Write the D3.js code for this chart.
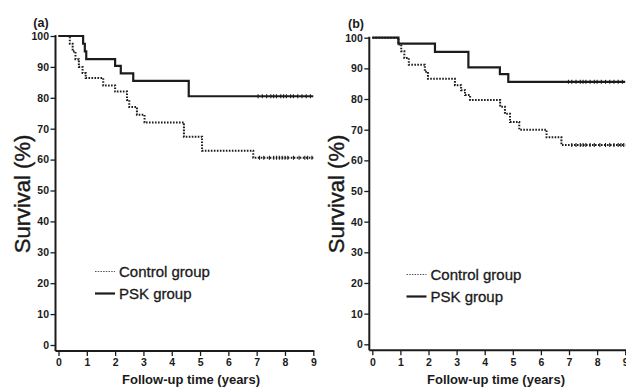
<!DOCTYPE html>
<html>
<head>
<meta charset="utf-8">
<script src="https://cdn.jsdelivr.net/npm/d3@7"></script>
<style>
  html, body { margin: 0; padding: 0; background: #fff; }
  svg { display: block; }
  text { font-family: "Liberation Sans", Arial, sans-serif; fill: #1a1a1a; }
</style>
</head>
<body>
<svg id="chart" width="626" height="387"></svg>
<script>
// ---------- DATA ----------
const panelLabels = ["(a)", "(b)"];
const seriesNames = ["Control group", "PSK group"];
const xTicks = [0, 1, 2, 3, 4, 5, 6, 7, 8, 9];
const yTicks = [0, 10, 20, 30, 40, 50, 60, 70, 80, 90, 100];
const yTitle = "Survival (%)";
const xTitle = "Follow-up time (years)";

// Kaplan–Meier steps: [time (years), survival (%) after event]
const controlA = [[0, 100], [0.40, 97.5], [0.50, 95], [0.60, 92.5], [0.72, 90], [0.85, 88], [0.96, 86.4],
                  [1.58, 84], [2.0, 82], [2.42, 79.3], [2.5, 77], [2.77, 74.5], [3.04, 72],
                  [4.43, 67.4], [5.07, 62.9], [6.88, 60.6], [9, 60.6]];
const pskA = [[0, 100], [0.87, 97.5], [0.93, 95], [0.98, 92.5], [2.0, 90.3], [2.2, 87.9],
              [2.64, 85.5], [4.6, 80.5], [9, 80.5]];
const controlB = [[0, 100], [0.93, 97.8], [1.03, 95.6], [1.14, 93.4], [1.3, 91.2], [1.87, 88.9],
                  [1.98, 86.6], [2.94, 84.5], [3.16, 82.9], [3.3, 81.3], [3.48, 79.7],
                  [4.55, 77.5], [4.72, 75.2], [4.9, 72.5], [5.23, 70], [6.2, 67.5], [6.73, 65], [9, 65]];
const pskB = [[0, 100], [0.93, 98.1], [2.23, 95.4], [3.42, 90.3], [4.54, 88.1], [4.84, 85.6], [9, 85.6]];

// censored observations (years) on the plateaus
const censorControlA = [7.1, 7.25, 7.45, 7.6, 7.7, 7.8, 7.9, 8.0, 8.1, 8.3, 8.5, 8.7, 8.8, 8.95];
const censorPskA = [7.05, 7.2, 7.35, 7.5, 7.6, 7.7, 7.85, 7.95, 8.05, 8.2, 8.3, 8.45, 8.6, 8.75, 8.9];
const censorControlB = [7.1, 7.25, 7.4, 7.5, 7.6, 7.75, 7.9, 8.1, 8.3, 8.45, 8.6, 8.75, 8.85, 8.95];
const censorPskB = [6.98, 7.1, 7.25, 7.4, 7.5, 7.6, 7.75, 7.9, 8.0, 8.15, 8.3, 8.45, 8.6, 8.75, 8.9];

// ---------- LAYOUT ----------
const panels = [
  { label: panelLabels[0], control: controlA, psk: pskA, cC: censorControlA, cP: censorPskA,
    x0: 58.5, x1: 313.3, yTop: 36, yBot: 345, labelX: 41, labelY: 27, titleX: 22, xTitleX: 191,
    legX: 95, legY: 271.5 },
  { label: panelLabels[1], control: controlB, psk: pskB, cC: censorControlB, cP: censorPskB,
    x0: 372.3, x1: 625.2, yTop: 37.7, yBot: 344.3, labelX: 356, labelY: 27.5, titleX: 336, xTitleX: 496,
    legX: 406.5, legY: 274.5 }
];

const svg = d3.select("#chart");
const ink = "#1c1c1c";

panels.forEach(p => {
  const g = svg.append("g");
  const x = d3.scaleLinear().domain([0, 9]).range([p.x0, p.x1]);
  const y = d3.scaleLinear().domain([0, 100]).range([p.yBot, p.yTop]);
  const axisX = p.x0 - 3;       // offset y-axis line
  const axisY = p.yBot + 6;     // offset x-axis line

  // Y axis
  const yAxis = d3.axisLeft(y).tickValues(yTicks).tickSize(5).tickPadding(1.5).tickFormat(d3.format("d"));
  const ya = g.append("g").attr("transform", `translate(${axisX},0)`).call(yAxis);
  ya.select(".domain").attr("d", `M0,${p.yTop - 1}V${axisY}`).attr("stroke", ink).attr("stroke-width", 2);
  ya.selectAll(".tick line").attr("stroke", ink).attr("stroke-width", 1.3);
  ya.selectAll(".tick text").attr("font-size", 10.5).attr("font-weight", "bold").attr("fill", ink)
    .style("font-family", "'Liberation Sans', Arial, sans-serif");

  // X axis
  const xAxis = d3.axisBottom(x).tickValues(xTicks).tickSize(5).tickPadding(3).tickFormat(d3.format("d"));
  const xa = g.append("g").attr("transform", `translate(0,${axisY})`).call(xAxis);
  xa.select(".domain").attr("d", `M${axisX},0H${p.x1 + 1}`).attr("stroke", ink).attr("stroke-width", 2);
  xa.selectAll(".tick line").attr("stroke", ink).attr("stroke-width", 1.3);
  xa.selectAll(".tick text").attr("font-size", 10.5).attr("font-weight", "bold").attr("fill", ink)
    .style("font-family", "'Liberation Sans', Arial, sans-serif");

  // Panel label
  g.append("text").attr("x", p.labelX).attr("y", p.labelY).attr("text-anchor", "middle")
    .attr("font-size", 12.5).attr("font-weight", "bold").text(p.label);

  // Axis titles
  g.append("text").attr("transform", `translate(${p.titleX + 8},${194}) rotate(-90)`)
    .attr("text-anchor", "middle").attr("font-size", 22).attr("stroke", "#1a1a1a").attr("stroke-width", 0.4)
    .text(yTitle);
  g.append("text").attr("x", p.xTitleX).attr("y", 384).attr("text-anchor", "middle")
    .attr("font-size", 13).attr("font-weight", "bold").text(xTitle);

  // Curves
  const line = d3.line().x(d => x(d[0])).y(d => y(d[1])).curve(d3.curveStepAfter);
  g.append("path").datum(p.control).attr("d", line).attr("fill", "none")
    .attr("stroke", ink).attr("stroke-width", 2).attr("stroke-dasharray", "1.6,1.4");
  g.append("path").datum(p.psk).attr("d", line).attr("fill", "none")
    .attr("stroke", ink).attr("stroke-width", 2.2);

  // Censor marks
  const lastC = p.control[p.control.length - 1][1];
  const lastP = p.psk[p.psk.length - 1][1];
  g.selectAll(null).data(p.cC).enter().append("line")
    .attr("x1", d => x(d)).attr("x2", d => x(d))
    .attr("y1", y(lastC) - 2).attr("y2", y(lastC) + 2)
    .attr("stroke", ink).attr("stroke-width", 1.1);
  g.selectAll(null).data(p.cP).enter().append("line")
    .attr("x1", d => x(d)).attr("x2", d => x(d))
    .attr("y1", y(lastP) - 2).attr("y2", y(lastP) + 2)
    .attr("stroke", ink).attr("stroke-width", 1.1);

  // Legend
  const leg = g.append("g");
  leg.append("line").attr("x1", p.legX).attr("x2", p.legX + 20).attr("y1", p.legY).attr("y2", p.legY)
    .attr("stroke", "#555").attr("stroke-width", 1.2).attr("stroke-dasharray", "1.5,1.2");
  leg.append("text").attr("x", p.legX + 24).attr("y", p.legY + 5.5).attr("font-size", 15)
    .attr("stroke", "#1a1a1a").attr("stroke-width", 0.3).text(seriesNames[0]);
  leg.append("line").attr("x1", p.legX).attr("x2", p.legX + 20).attr("y1", p.legY + 22).attr("y2", p.legY + 22)
    .attr("stroke", ink).attr("stroke-width", 2.2);
  leg.append("text").attr("x", p.legX + 24).attr("y", p.legY + 27.5).attr("font-size", 15)
    .attr("stroke", "#1a1a1a").attr("stroke-width", 0.3).text(seriesNames[1]);
});
</script>
</body>
</html>
